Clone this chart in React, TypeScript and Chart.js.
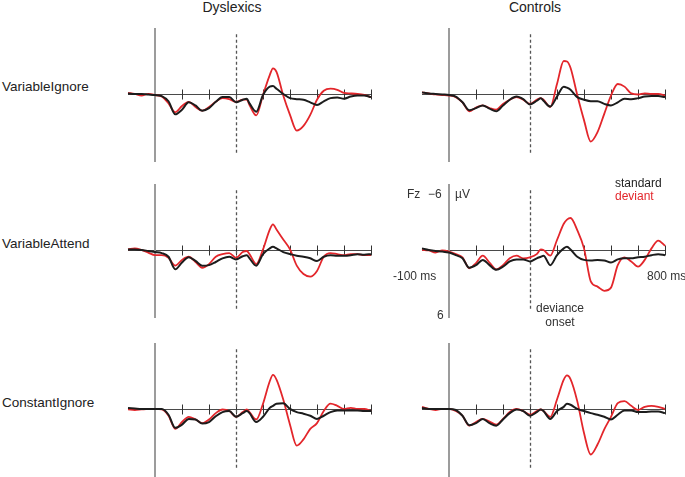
import React, { useEffect, useRef } from "react";
import { Chart, registerables } from "chart.js";
Chart.register(...registerables);

// time points (ms)
const TIMES = [-100, -75, -50, -25, 0, 25, 50, 75, 100, 125, 150, 175, 200, 225, 250, 275, 300, 325, 340, 350, 375, 400, 425, 437, 450, 475, 500, 525, 550, 575, 600, 625, 650, 675, 700, 725, 750, 775, 800];

const GROUPS = ["Dyslexics", "Controls"];
const CONDITIONS = ["VariableIgnore", "VariableAttend", "ConstantIgnore"];
const X_TICKS = [100, 200, 300, 400, 500, 600, 700, 800];
const DEVIANCE_ONSET = 300;

// amplitudes in µV (negative plotted upwards)
const DYS_VI_STD = [-0.05, 0, 0, 0.05, 0.1, 0.2, 0.7, 1.95, 1.5, 0.8, 1.1, 1.6, 1.35, 0.75, 0.3, 0.3, 0.8, 0.55, 0.45, 0.9, 1.7, 0.1, -0.7, -0.75, -0.5, 0, 0.4, 0.5, 0.55, 0.8, 1.05, 0.7, 0.4, 0.35, 0.45, 0.25, 0.15, 0.15, 0.3];
const DYS_VI_DEV = [-0.1, 0, 0.15, 0, 0.1, 0.25, 0.9, 1.75, 1.15, 0.75, 1.25, 1.6, 1.25, 0.75, 0.4, 0.5, 0.75, 0.55, 0.55, 1.05, 2.05, 0.1, -1.8, -2.45, -2.1, 0.15, 2.0, 3.5, 3.05, 2.0, 0.55, -0.3, -0.5, -0.4, -0.1, -0.05, 0, 0.1, 0.3];
const CON_VI_STD = [-0.15, -0.05, 0, 0.05, 0.1, 0.25, 0.8, 1.55, 1.35, 1.1, 1.4, 1.65, 1.1, 0.55, 0.25, 0.5, 1.0, 0.65, 0.4, 0.65, 1.2, 0.25, -0.7, -0.6, -0.4, 0.3, 0.55, 0.7, 0.7, 0.95, 1.1, 0.8, 0.45, 0.5, 0.4, 0.25, 0.2, 0.2, 0.3];
const CON_VI_DEV = [-0.15, -0.05, 0.05, 0.1, 0.15, 0.3, 0.8, 1.65, 1.3, 1.1, 1.35, 1.5, 0.95, 0.55, 0.3, 0.55, 0.95, 0.55, 0.4, 0.55, 1.25, -0.95, -3.15, -3.1, -2.5, 0.1, 2.5, 4.55, 3.65, 1.9, 0.15, -0.95, -0.7, -0.05, 0.05, -0.05, 0, 0, 0.15];
const DYS_VA_STD = [-0.05, -0.05, 0, 0.1, 0.2, 0.3, 0.65, 1.85, 1.2, 0.7, 1.05, 1.5, 1.45, 1.15, 0.8, 0.65, 0.9, 0.6, 0.5, 0.8, 1.5, 0.4, -0.15, -0.3, -0.15, 0.2, 0.4, 0.55, 0.65, 0.8, 1.05, 0.65, 0.5, 0.55, 0.55, 0.5, 0.4, 0.45, 0.4];
const DYS_VA_DEV = [-0.05, -0.15, 0, 0.25, 0.5, 0.5, 0.75, 1.5, 0.95, 0.65, 1.15, 1.7, 1.35, 0.65, 0.4, 0.3, 0.75, 0.2, 0.1, 0.4, 1.35, -0.05, -1.95, -2.45, -1.95, -1.0, -0.05, 1.5, 2.3, 2.55, 2.0, 0.65, 0.3, 0.4, 0.5, 0.4, 0.4, 0.5, 0.5];
const CON_VA_STD = [-0.15, 0, 0.1, 0.15, 0.25, 0.5, 0.8, 1.7, 1.45, 0.95, 1.45, 1.9, 1.6, 1.1, 0.9, 0.9, 1.1, 0.8, 0.65, 0.55, 1.45, 0.5, -0.15, -0.3, -0.05, 0.65, 0.95, 1.0, 0.95, 1.0, 1.2, 0.9, 0.8, 0.8, 0.7, 0.65, 0.5, 0.4, 0.5];
const CON_VA_DEV = [0, 0.05, 0.25, 0.05, 0.15, 0.4, 0.7, 1.75, 1.25, 0.55, 1.2, 1.85, 1.45, 0.8, 0.55, 0.8, 0.7, 0.4, -0.05, 0, 0.55, -0.95, -2.5, -2.9, -3.05, -1.9, -0.15, 3.0, 3.5, 3.9, 3.6, 1.45, 0.7, 1.1, 1.6, 0.95, -0.15, -0.9, -0.4];
const DYS_CI_STD = [-0.1, -0.05, 0, 0, 0, 0, 0.55, 1.8, 1.5, 0.95, 1.0, 1.4, 1.25, 0.7, 0.3, 0.2, 0.75, 0.4, 0.2, 0.4, 1.25, 0.75, -0.1, -0.3, -0.5, -0.55, 0, 0.3, 0.45, 0.65, 0.95, 0.65, 0.3, 0.15, 0.15, 0.15, 0.15, 0.2, 0.2];
const DYS_CI_DEV = [0.05, 0.1, 0.05, 0, 0, 0.05, 0.65, 1.9, 1.25, 0.75, 1.0, 1.35, 1.0, 0.4, 0.05, 0.2, 0.75, 0.3, 0.05, 0.3, 1.0, -0.5, -2.65, -3.25, -2.8, -0.9, 1.5, 3.5, 2.9, 1.9, 1.35, 0.2, -0.5, -0.3, 0, -0.1, 0, 0, 0.2];
const CON_CI_STD = [-0.1, 0, 0, 0, 0, 0.1, 0.65, 1.55, 1.35, 0.95, 1.35, 1.6, 1.0, 0.4, 0.05, 0.2, 0.65, 0.3, 0.05, 0.2, 0.95, 0.2, -0.2, -0.5, -0.4, 0, 0.2, 0.4, 0.55, 0.75, 1.0, 0.55, 0.15, 0.15, 0.3, 0.3, 0.25, 0.25, 0.4];
const CON_CI_DEV = [-0.2, 0, 0.1, 0, 0, 0.2, 0.65, 1.6, 1.25, 0.95, 1.2, 1.5, 0.95, 0.3, 0, 0.2, 0.55, 0.2, 0.05, 0.2, 0.75, -0.9, -2.8, -3.2, -2.85, -0.75, 2.3, 4.35, 3.4, 1.95, 0.75, -0.55, -0.75, -0.3, 0.1, -0.2, -0.3, -0.2, 0];

const Y_MIN = -6.3;
const Y_MAX = 6.5;

const PAD = 6;
const PLOT_W = 243;
const PLOT_H = 134;
const COL_LEFT = [128, 422];
const ROW_TOP = [28, 184, 343];

const PANELS = [
  { std: DYS_VI_STD, dev: DYS_VI_DEV, col: 0, row: 0 },
  { std: CON_VI_STD, dev: CON_VI_DEV, col: 1, row: 0 },
  { std: DYS_VA_STD, dev: DYS_VA_DEV, col: 0, row: 1 },
  { std: CON_VA_STD, dev: CON_VA_DEV, col: 1, row: 1 },
  { std: DYS_CI_STD, dev: DYS_CI_DEV, col: 0, row: 2 },
  { std: CON_CI_STD, dev: CON_CI_DEV, col: 1, row: 2 },
];

const FONT = '"Liberation Sans", Arial, Helvetica, sans-serif';

const axesPlugin = {
  id: "erpAxes",
  beforeDatasetsDraw(chart: any) {
    const { ctx } = chart;
    const x = chart.scales.x;
    const y = chart.scales.y;
    ctx.save();
    const yb = Math.round(y.getPixelForValue(0)) + 0.5;
    // baseline
    ctx.strokeStyle = "#4a4a4a";
    ctx.lineWidth = 1;
    ctx.beginPath();
    ctx.moveTo(x.getPixelForValue(-100), yb);
    ctx.lineTo(x.getPixelForValue(800), yb);
    ctx.stroke();
    // ticks
    ctx.strokeStyle = "#333";
    for (const t of X_TICKS) {
      const xp = Math.round(x.getPixelForValue(t)) + 0.5;
      ctx.beginPath();
      ctx.moveTo(xp, yb - 5);
      ctx.lineTo(xp, yb + 5);
      ctx.stroke();
    }
    // vertical axis at 0 ms
    const x0 = Math.round(x.getPixelForValue(0));
    ctx.strokeStyle = "#9c9c9c";
    ctx.lineWidth = 2;
    ctx.beginPath();
    ctx.moveTo(x0, y.getPixelForValue(Y_MIN));
    ctx.lineTo(x0, y.getPixelForValue(Y_MAX));
    ctx.stroke();
    // deviance onset dashed line
    const xd = Math.round(x.getPixelForValue(DEVIANCE_ONSET)) + 0.5;
    ctx.strokeStyle = "#555";
    ctx.lineWidth = 1.3;
    ctx.setLineDash([3, 2.5]);
    ctx.beginPath();
    ctx.moveTo(xd, y.getPixelForValue(-5.7));
    ctx.lineTo(xd, y.getPixelForValue(5.85));
    ctx.stroke();
    ctx.restore();
  },
};

function Panel({ std, dev, left, top }: { std: number[]; dev: number[]; left: number; top: number }) {
  const ref = useRef<HTMLCanvasElement | null>(null);
  useEffect(() => {
    if (!ref.current) return;
    const chart = new Chart(ref.current, {
      type: "line",
      data: {
        datasets: [
          {
            label: "standard",
            data: TIMES.map((t, i) => ({ x: t, y: std[i] })),
            borderColor: "#1c1c1c",
            borderWidth: 2,
            pointRadius: 0,
            cubicInterpolationMode: "monotone",
            clip: false,
            order: 0,
          } as any,
          {
            label: "deviant",
            data: TIMES.map((t, i) => ({ x: t, y: dev[i] })),
            borderColor: "#e3262b",
            borderWidth: 1.8,
            pointRadius: 0,
            cubicInterpolationMode: "monotone",
            clip: false,
            order: 1,
          } as any,
        ],
      },
      options: {
        animation: false,
        responsive: false,
        devicePixelRatio: 1,
        events: [],
        layout: { padding: PAD },
        plugins: { legend: { display: false }, tooltip: { enabled: false }, title: { display: false } },
        scales: {
          x: { type: "linear", min: -100, max: 800, display: false },
          y: { type: "linear", min: Y_MIN, max: Y_MAX, reverse: true, display: false },
        },
      },
      plugins: [axesPlugin],
    });
    return () => chart.destroy();
  }, [std, dev]);
  return (
    <canvas
      ref={ref}
      width={PLOT_W + 2 * PAD}
      height={PLOT_H + 2 * PAD}
      style={{ position: "absolute", left: left - PAD, top: top - PAD, width: PLOT_W + 2 * PAD, height: PLOT_H + 2 * PAD }}
    />
  );
}

function Label({ text, x, y, size = 12, color = "#333", align = "left" }: { text: string; x: number; y: number; size?: number; color?: string; align?: "left" | "center" }) {
  return (
    <div
      style={{
        position: "absolute",
        left: x,
        top: y,
        transform: align === "center" ? "translate(-50%, -50%)" : "translate(0, -50%)",
        fontFamily: FONT,
        fontSize: size,
        lineHeight: 1,
        color,
        whiteSpace: "nowrap",
      }}
    >
      {text}
    </div>
  );
}

export default function App() {
  return (
    <div style={{ position: "absolute", left: 0, top: 0, width: 685, height: 477, overflow: "hidden", background: "#fff" }}>
      <Label text={GROUPS[0]} x={232} y={7} size={14} color="#222" align="center" />
      <Label text={GROUPS[1]} x={535} y={7} size={14} color="#222" align="center" />
      <Label text={CONDITIONS[0]} x={2} y={87} size={13.5} color="#222" />
      <Label text={CONDITIONS[1]} x={2} y={244} size={13.5} color="#222" />
      <Label text={CONDITIONS[2]} x={2} y={403} size={13.5} color="#222" />
      {PANELS.map((p, i) => (
        <Panel key={i} std={p.std} dev={p.dev} left={COL_LEFT[p.col]} top={ROW_TOP[p.row]} />
      ))}
      <Label text="Fz" x={407} y={194} />
      <Label text="−6" x={428} y={194} />
      <Label text="µV" x={455} y={194} />
      <Label text="standard" x={615} y={183} color="#222" />
      <Label text="deviant" x={615} y={196} color="#e3262b" />
      <Label text="-100 ms" x={393} y={276} />
      <Label text="800 ms" x={647} y={276} />
      <Label text="6" x={437} y={315} />
      <Label text="deviance" x={560} y={308} align="center" />
      <Label text="onset" x={560} y={322} align="center" />
    </div>
  );
}
